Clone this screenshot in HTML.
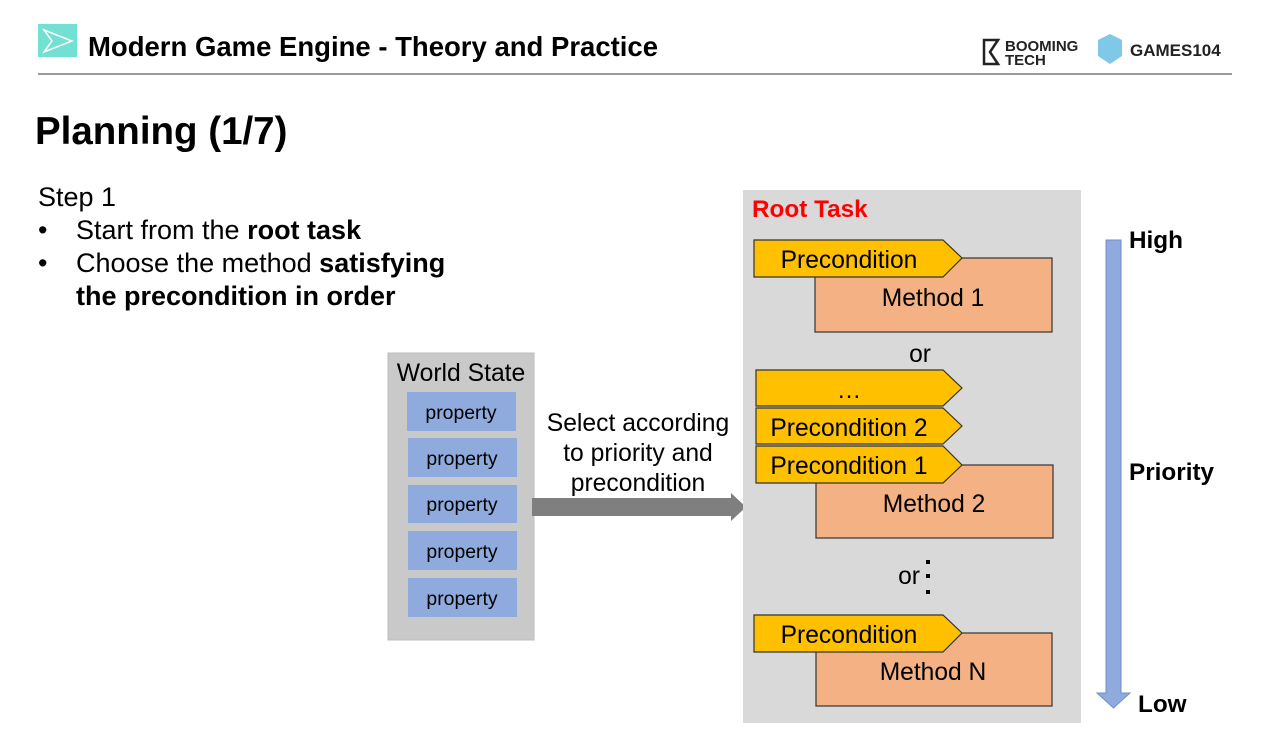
<!DOCTYPE html>
<html><head><meta charset="utf-8"><style>
html,body{margin:0;padding:0;background:#fff;}
svg{display:block;}
text{font-family:"Liberation Sans",Arial,sans-serif;}
</style></head><body>
<svg width="1280" height="741" viewBox="0 0 1280 741" xmlns="http://www.w3.org/2000/svg">
<rect width="1280" height="741" fill="#fff"/>
<!-- header -->
<rect x="38" y="24" width="39" height="33" fill="#72e0d2"/>
<path d="M44 30 L72 41 L44 52 L52 41 Z" fill="none" stroke="#fff" stroke-width="1.5"/>
<text x="88" y="56" font-size="27.5" font-weight="bold" fill="#000">Modern Game Engine - Theory and Practice</text>
<text x="1005" y="51" font-size="15" font-weight="bold" fill="#222">BOOMING</text>
<text x="1005" y="65" font-size="15" font-weight="bold" fill="#222">TECH</text>
<path d="M984 40 L998 40 L990 52 L998 64 L984 64 Z" fill="none" stroke="#222" stroke-width="2.5"/>
<path d="M1098 40 L1110 34 L1122 40 L1122 56 L1110 64 L1098 56 Z" fill="#7fc8e8"/>
<text x="1130" y="56" font-size="17" font-weight="bold" fill="#222">GAMES104</text>
<rect x="38" y="73" width="1194" height="2" fill="#9a9a9a"/>
<text x="35" y="144" font-size="38.5" font-weight="bold" fill="#000">Planning (1/7)</text>
<text x="38" y="206" font-size="27" fill="#000">Step 1</text>
<text x="38" y="239" font-size="27" fill="#000">•</text>
<text x="76" y="239" font-size="27" fill="#000">Start from the <tspan font-weight="bold">root task</tspan></text>
<text x="38" y="272" font-size="27" fill="#000">•</text>
<text x="76" y="272" font-size="27" fill="#000">Choose the method <tspan font-weight="bold">satisfying</tspan></text>
<text x="76" y="305" font-size="27" font-weight="bold" fill="#000">the precondition in order</text>
<!-- world state -->
<rect x="388" y="353" width="146" height="287" fill="#c9c9c9" stroke="#bdbdbd"/>
<text x="461" y="381" font-size="24.7" text-anchor="middle" fill="#000">World State</text>
<g fill="#8faadc">
<rect x="407" y="392" width="109" height="39"/>
<rect x="408" y="438" width="109" height="39"/>
<rect x="408" y="485" width="109" height="38"/>
<rect x="408" y="531" width="109" height="39"/>
<rect x="408" y="578" width="109" height="39"/>
</g>
<g font-size="19.4" text-anchor="middle" fill="#000">
<text x="461" y="419">property</text>
<text x="462" y="465">property</text>
<text x="462" y="511">property</text>
<text x="462" y="558">property</text>
<text x="462" y="605">property</text>
</g>
<!-- select arrow -->
<path d="M532 498 L731 498 L731 493 L746 507 L731 521 L731 516 L532 516 Z" fill="#7f7f7f"/>
<g font-size="24.7" text-anchor="middle" fill="#000">
<text x="638" y="431">Select according</text>
<text x="638" y="461">to priority and</text>
<text x="638" y="491">precondition</text>
</g>
<!-- root task panel -->
<rect x="743" y="190" width="338" height="533" fill="#d9d9d9"/>
<text x="752" y="217" font-size="24.3" font-weight="bold" fill="#ff0000">Root Task</text>
<g stroke="#333" stroke-width="1.2">
<rect x="815" y="258" width="237" height="74" fill="#f4b183"/>
<path d="M754 240 L943 240 L962 258 L943 277 L754 277 Z" fill="#ffc000"/>
<path d="M756 370 L943 370 L962 388 L943 406 L756 406 Z" fill="#ffc000"/>
<path d="M756 408 L943 408 L962 426 L943 444 L756 444 Z" fill="#ffc000"/>
<rect x="816" y="465" width="237" height="73" fill="#f4b183"/>
<path d="M756 446 L943 446 L962 465 L943 483 L756 483 Z" fill="#ffc000"/>
<rect x="816" y="633" width="236" height="73" fill="#f4b183"/>
<path d="M754 615 L943 615 L962 633 L943 652 L754 652 Z" fill="#ffc000"/>
</g>
<g font-size="24.6" fill="#000">
<text x="849" y="268" text-anchor="middle">Precondition</text>
<text x="933" y="306" text-anchor="middle">Method 1</text>
<text x="920" y="362" text-anchor="middle">or</text>
<text x="849" y="398" text-anchor="middle">…</text>
<text x="849" y="436" text-anchor="middle">Precondition 2</text>
<text x="849" y="474" text-anchor="middle">Precondition 1</text>
<text x="934" y="512" text-anchor="middle">Method 2</text>
<text x="909" y="584" text-anchor="middle">or</text>
<text x="849" y="643" text-anchor="middle">Precondition</text>
<text x="933" y="680" text-anchor="middle">Method N</text>
</g>
<rect x="926" y="560" width="4" height="4" fill="#000"/>
<rect x="926" y="574" width="4" height="4" fill="#000"/>
<rect x="926" y="590" width="4" height="4" fill="#000"/>
<!-- priority arrow -->
<path d="M1106 240 L1121 240 L1121 693 L1130 693 L1113.5 708 L1097 693 L1106 693 Z" fill="#8faadc" stroke="#6d8fc8" stroke-width="1"/>
<g font-size="24.3" font-weight="bold" fill="#000">
<text x="1129" y="248">High</text>
<text x="1129" y="480">Priority</text>
<text x="1138" y="712">Low</text>
</g>
</svg>
</body></html>
